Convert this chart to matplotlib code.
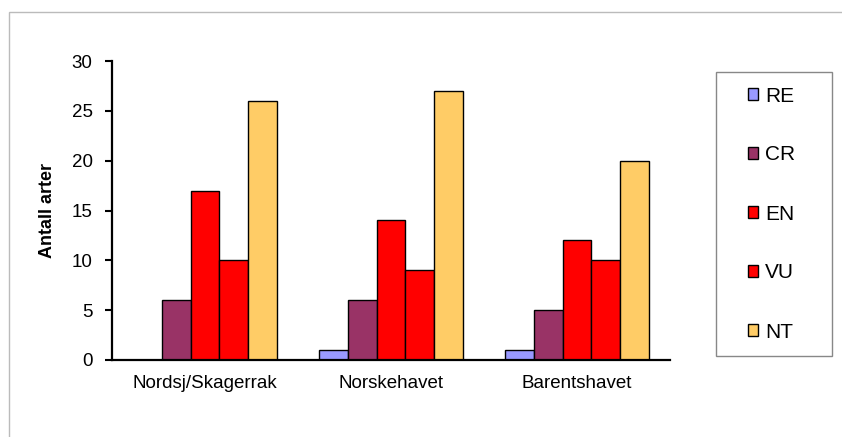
import matplotlib
matplotlib.use("Agg")
import matplotlib.pyplot as plt
from matplotlib.patches import Rectangle
import numpy as np

plt.rcParams['font.family'] = ['Liberation Sans', 'DejaVu Sans']

categories = ["Nordsj/Skagerrak", "Norskehavet", "Barentshavet"]
series = ["RE", "CR", "EN", "VU", "NT"]
RE = [0, 1, 1]
CR = [6, 6, 5]
EN = [17, 14, 12]
VU = [10, 9, 10]
NT = [26, 27, 20]
values = [RE, CR, EN, VU, NT]
colors = ["#9999FF", "#993366", "#FF0000", "#FF0000", "#FFCC66"]

W, H = 842, 437
fig = plt.figure(figsize=(W / 100, H / 100), dpi=100)
ax = fig.add_axes([112 / W, 1 - 360 / H, (670 - 112) / W, (360 - 61) / H])

x = np.arange(len(categories))
bw = 0.154
for i, (name, vals, c) in enumerate(zip(series, values, colors)):
    offs = (i - 2) * bw
    ax.bar(x + offs, vals, width=bw, color=c, edgecolor="black", linewidth=1.0,
           label=name, zorder=3)

ax.set_xlim(-0.5, 2.5)
ax.set_ylim(0, 30)
ax.set_yticks([0, 5, 10, 15, 20, 25, 30])
ax.set_xticks(x)
ax.set_xticklabels(categories, fontsize=13.5)
ax.tick_params(axis='x', length=0, pad=11)
ax.tick_params(axis='y', direction='out', length=5, width=1.5, labelsize=13.5, pad=9)
for s in ["top", "right"]:
    ax.spines[s].set_visible(False)
for s in ["left", "bottom"]:
    ax.spines[s].set_linewidth(1.6)
    ax.spines[s].set_zorder(5)
ax.set_ylabel("Antall arter", fontsize=13, fontweight="bold", labelpad=11)

leg = fig.legend(loc="center left", bbox_to_anchor=(748 / W, 1 - 214 / H),
                 fontsize=15, frameon=False,
                 handlelength=0.48, handleheight=0.48, handletextpad=0.35,
                 labelspacing=1.92, borderpad=0, borderaxespad=0)

fig.patches.append(Rectangle((716 / W, 1 - 356 / H), (832 - 716) / W, (356 - 72) / H,
                             transform=fig.transFigure, fill=False,
                             edgecolor="#888888", linewidth=1.0))
fig.patches.append(Rectangle((9 / W, -0.1), 1.2, 1 - 12 / H + 0.1, transform=fig.transFigure,
                             fill=False, edgecolor="#BBBBBB", linewidth=1.0))

fig.savefig("out.png", dpi=100)
